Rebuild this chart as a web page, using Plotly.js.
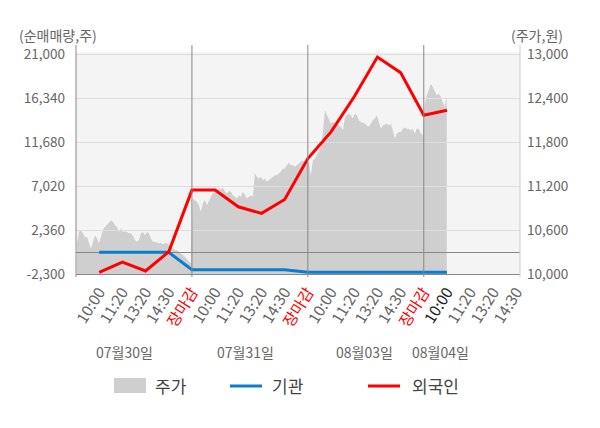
<!DOCTYPE html>
<html>
<head>
<meta charset="utf-8">
<script src="https://cdn.plot.ly/plotly-3.0.1.min.js"></script>
<style>
  html, body { margin: 0; padding: 0; background: #ffffff; }
  #chart { width: 600px; height: 428px; }
</style>
</head>
<body>
<div id="chart"></div>
<script>
// ---------- data ----------
var dates = ['07월30일', '07월31일', '08월03일', '08월04일'];
var slotLabels = ['10:00', '11:20', '13:20', '14:30', '장마감'];

// intraday price (원), one array per day, sampled left to right
var priceDay1 = [10420, 10580, 10590, 10555, 10500, 10510, 10420, 10350, 10440, 10530,
                 10485, 10420, 10510, 10600, 10645, 10670, 10700, 10735, 10715, 10670,
                 10645, 10575, 10625, 10575, 10585, 10575, 10555, 10555, 10520, 10465,
                 10440, 10465, 10555, 10575, 10530, 10575, 10555, 10485, 10440, 10440,
                 10425, 10420, 10425, 10405, 10420, 10425, 10395, 10375, 10350, 10325,
                 10325, 10305, 10280, 10260, 10235, 10200, 10170, 10145];
var priceDay2 = [11030, 11010, 10985, 10940, 10850, 10965, 11010, 10940, 11010, 11055,
                 11100, 11125, 11145, 11170, 11155, 11180, 11125, 11100, 11135, 11125,
                 11075, 11055, 11030, 11075, 11055, 11125, 11075, 11030, 11055, 11075,
                 11055, 11380, 11325, 11305, 11325, 11280, 11305, 11260, 11280, 11305,
                 11325, 11350, 11350, 11375, 11395, 11440, 11440, 11485, 11520, 11485,
                 11485, 11465, 11485, 11510, 11530, 11555, 11510, 11530];
var priceDay3 = [11530, 11350, 11555, 11575, 11625, 11670, 11735, 11920, 12235, 12170,
                 12100, 12055, 12075, 12055, 12075, 12030, 12010, 11965, 12125, 12170,
                 12190, 12170, 12125, 12190, 12170, 12100, 12075, 12065, 12055, 12030,
                 12010, 12055, 12100, 12125, 12170, 12075, 11985, 12030, 12045, 12055,
                 12030, 12055, 11965, 11850, 11920, 11940, 11940, 11985, 12000, 11985,
                 11985, 11965, 11985, 11920, 11985, 11985, 11920, 11895];
var priceDay4 = [12325, 12440, 12510, 12600, 12555, 12485, 12440, 12465, 12420, 12350,
                 12280, 12440];

// net buying volume (주) at each labelled time slot (07/30 10:00 ... 08/04 10:00)
var foreignNet = [-2120, -1030, -1980, 60, 6600, 6600, 4830, 4130, 5610, 9950,
                  12770, 16500, 20710, 19060, 14540, 15070];
var instNet    = [0, 0, 0, 0, -1850, -1850, -1850, -1850, -1850, -2110,
                  -2110, -2110, -2110, -2110, -2110, -2110];

var leftTickVals  = [-2300, 2360, 7020, 11680, 16340, 21000];
var leftTickText  = ['-2,300', '2,360', '7,020', '11,680', '16,340', '21,000'];
var rightTickVals = [10000, 10600, 11200, 11800, 12400, 13000];
var rightTickText = ['10,000', '10,600', '11,200', '11,800', '12,400', '13,000'];

// ---------- build ----------
var SLOTS = slotLabels.length;          // 5 slots per trading day
var SAMPLES_PER_DAY = 58;               // intraday samples per full day
var priceDays = [priceDay1, priceDay2, priceDay3, priceDay4];
var px = [], py = [];
priceDays.forEach(function (arr, d) {
  arr.forEach(function (v, i) {
    px.push(d * SLOTS + (i + 0.5) * SLOTS / SAMPLES_PER_DAY);
    py.push(v);
  });
});

var tickVals = [], tickText = [];
var lastSlot = 16; // current (latest) time slot highlighted
for (var d = 0; d < dates.length; d++) {
  for (var s = 0; s < SLOTS; s++) {
    var pos = d * SLOTS + s + 1;
    if (pos > 19) break;
    var lab = slotLabels[s];
    if (lab === '장마감') lab = '<span style="color:#ff0000">' + lab + '</span>';
    else if (pos === lastSlot) lab = '<span style="color:#222222">' + lab + '</span>';
    tickVals.push(pos);
    tickText.push(lab);
  }
}
var netX = foreignNet.map(function (v, i) { return i + 1; });

var FONT = '"Noto Sans CJK KR", "Noto Sans", sans-serif';
var XR = [0, 19.15];

var traces = [
  { // price area (drawn first, in its own subplot underneath)
    x: px, y: py, xaxis: 'x', yaxis: 'y',
    type: 'scatter', mode: 'lines', fill: 'tozeroy',
    fillcolor: '#cfcfcf', line: { color: '#cfcfcf', width: 0 },
    name: '주가', hoverinfo: 'skip', showlegend: false
  },
  {
    x: netX, y: instNet, xaxis: 'x2', yaxis: 'y2',
    type: 'scatter', mode: 'lines',
    line: { color: '#0a7dcc', width: 3 },
    name: '기관', showlegend: false
  },
  {
    x: netX, y: foreignNet, xaxis: 'x2', yaxis: 'y2',
    type: 'scatter', mode: 'lines',
    line: { color: '#ff0000', width: 3 },
    name: '외국인', showlegend: false
  }
];

function vline(xv, color, xref) {
  return { type: 'line', xref: xref, yref: 'paper', x0: xv, x1: xv,
           y0: -0.0135, y1: 1.0315, line: { color: color, width: 1 }, layer: 'above' };
}

var shapes = [
  { type: 'rect', xref: 'paper', yref: 'paper', x0: 0, x1: 1, y0: 0, y1: 1,
    fillcolor: '#f4f4f4', line: { width: 0 }, layer: 'below' },
  vline(0, '#888888', 'paper'),
  vline(1, '#cccccc', 'paper'),
  vline(5, '#888888', 'x2'),
  vline(10, '#888888', 'x2'),
  vline(15, '#888888', 'x2'),
  // legend symbols
  { type: 'rect', xref: 'paper', yref: 'paper', x0: 0.0856, x1: 0.1577, y0: -0.536, y1: -0.468,
    fillcolor: '#cfcfcf', line: { width: 0 } },
  { type: 'line', xref: 'paper', yref: 'paper', x0: 0.3468, x1: 0.4189, y0: -0.5045, y1: -0.5045,
    line: { color: '#0a7dcc', width: 3 } },
  { type: 'line', xref: 'paper', yref: 'paper', x0: 0.6577, x1: 0.7297, y0: -0.5045, y1: -0.5045,
    line: { color: '#ff0000', width: 3 } }
];

var dateX = [2.1, 7.29, 12.46, 15.72];
var annotations = dates.map(function (t, i) {
  return { text: t, xref: 'x2', yref: 'paper', x: dateX[i], y: -0.353,
           xanchor: 'center', yanchor: 'middle', showarrow: false,
           font: { family: FONT, size: 14, color: '#666666' } };
});
annotations.push(
  { text: '(순매매량,주)', xref: 'paper', yref: 'paper', x: 0.0525, y: 1.0766,
    xanchor: 'right', yanchor: 'middle', showarrow: false,
    font: { family: FONT, size: 14, color: '#666666' } },
  { text: '(주가,원)', xref: 'paper', yref: 'paper', x: 0.9752, y: 1.0766,
    xanchor: 'left', yanchor: 'middle', showarrow: false,
    font: { family: FONT, size: 14, color: '#666666' } },
  { text: '주가', xref: 'paper', yref: 'paper', x: 0.1734, y: -0.5045,
    xanchor: 'left', yanchor: 'middle', showarrow: false,
    font: { family: FONT, size: 17, color: '#444444' } },
  { text: '기관', xref: 'paper', yref: 'paper', x: 0.4369, y: -0.5045,
    xanchor: 'left', yanchor: 'middle', showarrow: false,
    font: { family: FONT, size: 17, color: '#444444' } },
  { text: '외국인', xref: 'paper', yref: 'paper', x: 0.7523, y: -0.5045,
    xanchor: 'left', yanchor: 'middle', showarrow: false,
    font: { family: FONT, size: 17, color: '#444444' } }
);

var layout = {
  width: 600, height: 428,
  margin: { l: 76, r: 80, t: 52, b: 154, pad: 0 },
  paper_bgcolor: '#ffffff',
  plot_bgcolor: 'rgba(0,0,0,0)',
  font: { family: FONT, size: 13, color: '#666666' },
  showlegend: false,
  xaxis: {
    domain: [0, 1], anchor: 'y', range: XR, visible: false, fixedrange: true
  },
  yaxis: {
    domain: [0, 1], anchor: 'x', side: 'right',
    range: [10000, 13032.2],
    tickvals: rightTickVals, ticktext: rightTickText,
    showgrid: false, zeroline: false, showline: false, ticks: '',
    ticklabelstandoff: 6,
    tickfont: { family: FONT, size: 13.5, color: '#666666' }
  },
  xaxis2: {
    domain: [0, 1], anchor: 'y2', range: XR,
    tickvals: tickVals, ticktext: tickText, tickangle: -58,
    showgrid: false, zeroline: false,
    showline: true, linecolor: '#888888', linewidth: 1, ticks: '',
    ticklabelstandoff: 2,
    tickfont: { family: FONT, size: 15.5, color: '#666666' }
  },
  yaxis2: {
    domain: [0, 1], anchor: 'x2', side: 'left',
    range: [-2300, 21250],
    tickvals: leftTickVals, ticktext: leftTickText,
    showgrid: true, gridcolor: '#dddddd', gridwidth: 1,
    zeroline: true, zerolinecolor: '#888888', zerolinewidth: 1,
    showline: false, ticks: '',
    ticklabelstandoff: 10,
    tickfont: { family: FONT, size: 13.5, color: '#666666' }
  },
  shapes: shapes,
  annotations: annotations
};

Plotly.newPlot('chart', traces, layout, { displayModeBar: false, staticPlot: true });
</script>
</body>
</html>
